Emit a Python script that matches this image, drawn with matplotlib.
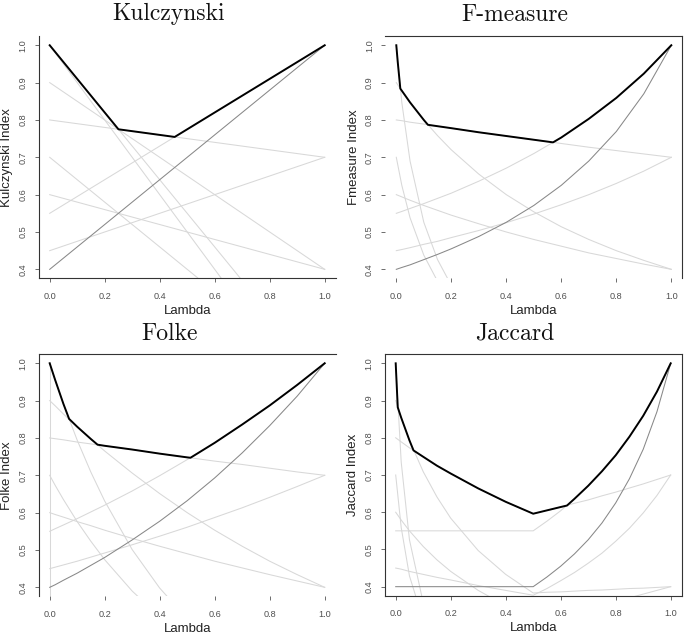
import matplotlib
matplotlib.use('Agg')
import matplotlib.pyplot as plt

plt.rcParams['font.family'] = ['Liberation Sans', 'DejaVu Sans']

# ---------------- data ----------------
# Kulczynski: straight lines, so two ends are enough
kulc_lam = [0.0, 1.0]
kulc_light = [
    [1.0, 0.1], [1.0, 0.0], [0.9, 0.4], [0.8, 0.7],
    [0.7, 0.1], [0.6, 0.4], [0.55, 1.0], [0.45, 0.7],
]
kulc_dark = [0.4, 1.0]
kulc_best_lam = [0.0, 0.25, 0.4545, 1.0]
kulc_best = [1.0, 0.775, 0.7545, 1.0]

# F-measure and Folke share one lambda grid
grid_lam = [0, 0.02, 0.05, 0.1, 0.15, 0.2, 0.3, 0.4, 0.5, 0.6, 0.7, 0.8, 0.9, 1.0]

fmeas_light = [
    [1.0, 0.847, 0.690, 0.526, 0.426, 0.357, 0.270, 0.217, 0.182, 0.156, 0.137, 0.122, 0.110, 0.1],
    [0.9, 0.878, 0.847, 0.800, 0.758, 0.720, 0.655, 0.600, 0.554, 0.514, 0.480, 0.450, 0.424, 0.4],
    [0.8, 0.798, 0.794, 0.789, 0.783, 0.778, 0.767, 0.757, 0.747, 0.737, 0.727, 0.718, 0.709, 0.7],
    [0.7, 0.625, 0.538, 0.438, 0.368, 0.318, 0.250, 0.206, 0.175, 0.152, 0.135, 0.121, 0.109, 0.1],
    [0.6, 0.594, 0.585, 0.571, 0.558, 0.545, 0.522, 0.500, 0.480, 0.462, 0.444, 0.429, 0.414, 0.4],
    [0.55, 0.555, 0.563, 0.576, 0.590, 0.604, 0.636, 0.671, 0.710, 0.753, 0.803, 0.859, 0.924, 1.0],
    [0.45, 0.453, 0.458, 0.467, 0.475, 0.485, 0.504, 0.525, 0.548, 0.573, 0.600, 0.630, 0.663, 0.7],
]
fmeas_dark = [0.4, 0.405, 0.412, 0.426, 0.440, 0.455, 0.488, 0.526, 0.571, 0.625, 0.690, 0.769, 0.870, 1.0]
fmeas_best_lam = [0, 0.005, 0.0146, 0.05, 0.1, 0.115, 0.2, 0.3, 0.4, 0.5, 0.57, 0.6, 0.7, 0.8, 0.9, 1.0]
fmeas_best = [1.0, 0.957, 0.884, 0.847, 0.800, 0.787, 0.778, 0.767, 0.757, 0.747, 0.740, 0.753, 0.803, 0.859, 0.924, 1.0]

folke_light = [
    [1.0, 0.955, 0.891, 0.794, 0.708, 0.631, 0.501, 0.398, 0.316, 0.251, 0.200, 0.158, 0.126, 0.1],
    [0.9, 0.886, 0.864, 0.830, 0.797, 0.765, 0.706, 0.651, 0.600, 0.553, 0.510, 0.470, 0.434, 0.4],
    [0.8, 0.798, 0.795, 0.789, 0.784, 0.779, 0.769, 0.758, 0.748, 0.738, 0.729, 0.719, 0.709, 0.7],
    [0.7, 0.673, 0.635, 0.576, 0.523, 0.474, 0.390, 0.321, 0.265, 0.218, 0.179, 0.148, 0.121, 0.1],
    [0.6, 0.595, 0.588, 0.576, 0.565, 0.553, 0.531, 0.510, 0.490, 0.470, 0.452, 0.434, 0.417, 0.4],
    [0.55, 0.557, 0.567, 0.584, 0.602, 0.620, 0.658, 0.699, 0.742, 0.787, 0.836, 0.887, 0.942, 1.0],
    [0.45, 0.454, 0.460, 0.470, 0.481, 0.492, 0.514, 0.537, 0.561, 0.587, 0.613, 0.641, 0.670, 0.7],
]
folke_dark = [0.4, 0.407, 0.419, 0.438, 0.459, 0.480, 0.527, 0.577, 0.632, 0.693, 0.760, 0.833, 0.912, 1.0]
folke_drop_lam = [0.0, 0.0]   # pair that falls straight to zero
folke_drop = [1.0, 0.0]
folke_best_lam = [0, 0.02, 0.05, 0.0706, 0.1, 0.15, 0.174, 0.2, 0.3, 0.4, 0.5, 0.512, 0.6, 0.7, 0.8, 0.9, 1.0]
folke_best = [1.0, 0.955, 0.891, 0.851, 0.830, 0.797, 0.782, 0.779, 0.769, 0.758, 0.748, 0.747, 0.787, 0.836, 0.887, 0.942, 1.0]

# Jaccard has a break at lambda = 0.5, so a finer grid on the right half
jac_lam = [0, 0.02, 0.05, 0.1, 0.15, 0.2, 0.3, 0.4, 0.5, 0.55, 0.6, 0.65, 0.7, 0.75, 0.8, 0.85, 0.9, 0.95, 1.0]
jac_light = [
    [1.0, 0.735, 0.526, 0.357, 0.270, 0.217, 0.156, 0.122, 0.100, 0.100, 0.100, 0.100, 0.100, 0.100, 0.100, 0.100, 0.100, 0.100, 0.1],
    [0.9, 0.854, 0.793, 0.709, 0.641, 0.584, 0.497, 0.433, 0.383, 0.385, 0.386, 0.388, 0.390, 0.391, 0.393, 0.395, 0.396, 0.398, 0.4],
    [0.8, 0.789, 0.773, 0.749, 0.725, 0.704, 0.664, 0.628, 0.596, 0.605, 0.614, 0.624, 0.633, 0.644, 0.654, 0.665, 0.676, 0.688, 0.7],
    [0.7, 0.559, 0.429, 0.310, 0.242, 0.199, 0.146, 0.116, 0.096, 0.096, 0.097, 0.097, 0.098, 0.098, 0.098, 0.099, 0.099, 0.100, 0.1],
    [0.6, 0.579, 0.550, 0.508, 0.472, 0.441, 0.390, 0.349, 0.316, 0.323, 0.330, 0.337, 0.345, 0.353, 0.361, 0.370, 0.380, 0.390, 0.4],
    [0.55, 0.550, 0.550, 0.550, 0.550, 0.550, 0.550, 0.550, 0.550, 0.576, 0.604, 0.636, 0.671, 0.710, 0.753, 0.803, 0.859, 0.924, 1.0],
    [0.45, 0.447, 0.441, 0.433, 0.425, 0.418, 0.403, 0.390, 0.377, 0.395, 0.416, 0.438, 0.463, 0.490, 0.522, 0.557, 0.598, 0.645, 0.7],
]
jac_dark = [0.4, 0.4, 0.4, 0.4, 0.4, 0.4, 0.4, 0.4, 0.4, 0.426, 0.455, 0.488, 0.526, 0.571, 0.625, 0.690, 0.769, 0.870, 1.0]
jac_best_lam = [0, 0.0074, 0.02, 0.05, 0.0648, 0.1, 0.15, 0.2, 0.3, 0.4, 0.5, 0.55, 0.6, 0.623, 0.65, 0.7, 0.75, 0.8, 0.85, 0.9, 0.95, 1.0]
jac_best = [1.0, 0.882, 0.854, 0.793, 0.766, 0.749, 0.725, 0.704, 0.664, 0.628, 0.596, 0.605, 0.614, 0.618, 0.636, 0.671, 0.710, 0.753, 0.803, 0.859, 0.924, 1.0]

x_ticks = [0.0, 0.2, 0.4, 0.6, 0.8, 1.0]
y_ticks = [0.4, 0.5, 0.6, 0.7, 0.8, 0.9, 1.0]

LIGHT = '#d8d8d8'
DARK = '#888888'
W, H = 685, 637


def add_axes_px(left, top, right, bottom):
    return fig.add_axes([left / W, 1 - bottom / H, (right - left) / W, (bottom - top) / H])


def draw_panel(ax, lam, light, dark, best_lam, best, ylabel, spines):
    for ys in light:
        ax.plot(lam, ys, color=LIGHT, lw=0.75)
    ax.plot(lam, dark, color=DARK, lw=0.75)
    ax.plot(best_lam, best, color='black', lw=1.4)

    ax.set_xlim(-0.04, 1.04)
    ax.set_ylim(0.376, 1.024)
    ax.set_xticks(x_ticks)
    ax.set_xticklabels(['%.1f' % v for v in x_ticks])
    ax.set_yticks(y_ticks)
    ax.set_yticklabels(['%.1f' % v for v in y_ticks])
    ax.tick_params(length=3.2, width=0.6, color='#555555', labelsize=6.6, labelcolor='#505050')
    ax.tick_params(axis='x', pad=6.5)
    ax.tick_params(axis='y', pad=5, labelrotation=90)
    for t in ax.get_yticklabels():
        t.set_va('center')

    for side in ['left', 'right', 'top', 'bottom']:
        ax.spines[side].set_visible(side in spines)
        ax.spines[side].set_color('#333333')
        ax.spines[side].set_linewidth(0.8)

    ax.set_xlabel('Lambda', fontsize=9.5, color='#222222', va='center')
    ax.xaxis.set_label_coords(0.5, -33.0 / 242)
    ax.set_ylabel(ylabel, fontsize=9.5, color='#222222', va='center')
    ax.yaxis.set_label_coords(-31.5 / 297, 0.5)


fig = plt.figure(figsize=(6.85, 6.37), dpi=100)

ax1 = add_axes_px(38.7, 36.3, 335.7, 278.3)
draw_panel(ax1, kulc_lam, kulc_light, kulc_dark, kulc_best_lam, kulc_best,
           'Kulczynski Index', ['left', 'bottom'])

ax2 = add_axes_px(385.3, 36.3, 682.3, 278.3)
draw_panel(ax2, grid_lam, fmeas_light, fmeas_dark, fmeas_best_lam, fmeas_best,
           'Fmeasure Index', ['top', 'right'])

ax3 = add_axes_px(38.7, 354.3, 335.7, 596.3)
ax3.plot(folke_drop_lam, folke_drop, color=LIGHT, lw=0.75)
draw_panel(ax3, grid_lam, folke_light, folke_dark, folke_best_lam, folke_best,
           'Folke Index', ['left', 'top'])

ax4 = add_axes_px(384.7, 354.4, 681.7, 595.6)
draw_panel(ax4, jac_lam, jac_light, jac_dark, jac_best_lam, jac_best,
           'Jaccard Index', ['left', 'right', 'top', 'bottom'])

# titles sit over the middle of each quarter of the figure
for title, cx, base in [('Kulczynski', 169, 20), ('F-measure', 515, 21),
                        ('Folke', 169, 339.5), ('Jaccard', 515, 339.5)]:
    fig.text(cx / W, 1 - base / H, title, ha='center', va='baseline',
             fontfamily='cmr10', fontsize=17, color='#111111')

fig.savefig('out.png', dpi=100)
